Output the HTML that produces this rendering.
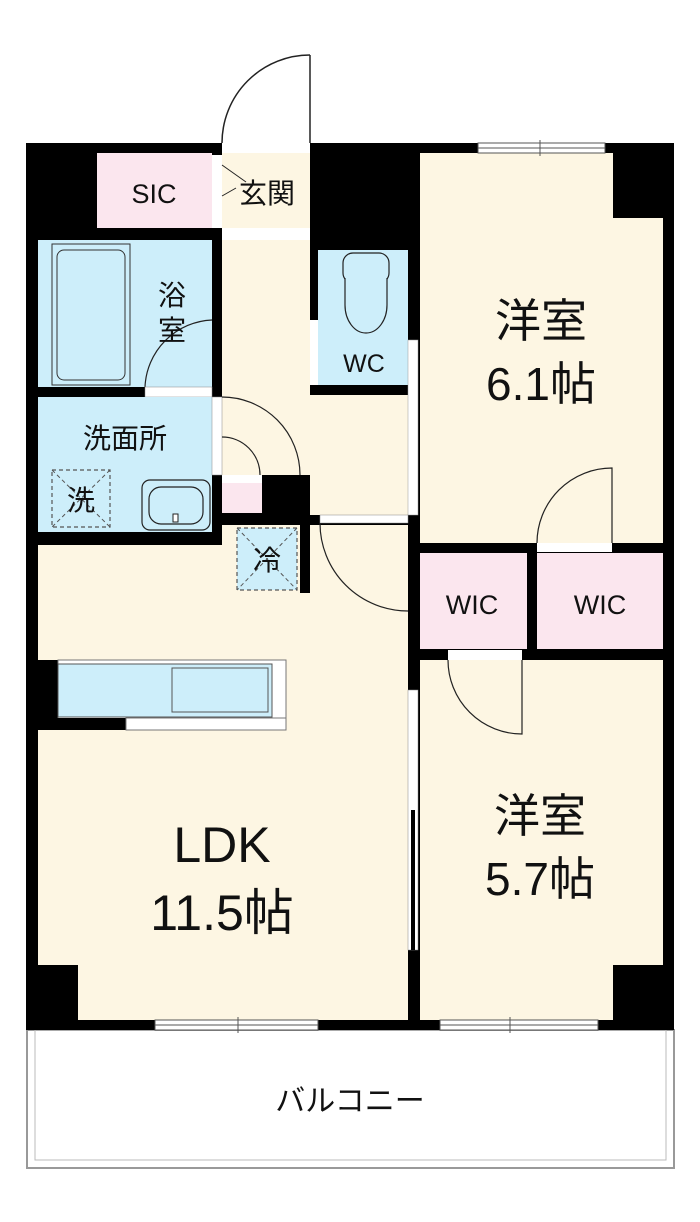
<!DOCTYPE html>
<html><head><meta charset="utf-8"><style>
html,body{margin:0;padding:0;background:#fff;}
svg{display:block;}
text{font-family:"Liberation Sans","Noto Sans CJK JP",sans-serif;fill:#111;}
</style></head><body>
<svg width="700" height="1222" viewBox="0 0 700 1222" xmlns="http://www.w3.org/2000/svg">
<rect x="27" y="1030" width="647" height="138" fill="#fff" stroke="#999" stroke-width="2"/>
<rect x="35" y="1030" width="631" height="130" fill="none" stroke="#bbb" stroke-width="1"/>
<path d="M310 55 A88 88 0 0 0 222 143" fill="none" stroke="#222" stroke-width="1.5"/>
<line x1="310" y1="55" x2="310" y2="143" stroke="#222" stroke-width="1.5"/>
<rect x="26" y="143" width="648" height="887" fill="#000"/>
<rect x="97" y="153" width="115" height="75" fill="#fbe6ee"/>
<rect x="222" y="153" width="88" height="75" fill="#fdf6e3"/>
<rect x="222" y="143" width="88" height="10" fill="#fff"/>
<rect x="222" y="228" width="88" height="12" fill="#fff"/>
<rect x="212" y="155" width="10" height="73" fill="#fff"/>
<line x1="222" y1="165" x2="246" y2="182" stroke="#222" stroke-width="1"/>
<line x1="222" y1="196" x2="236" y2="188" stroke="#222" stroke-width="1"/>
<rect x="222" y="240" width="88" height="235" fill="#fdf6e3"/>
<rect x="310" y="395" width="98" height="120" fill="#fdf6e3"/>
<rect x="38" y="240" width="174" height="147" fill="#cdeefa"/>
<rect x="52" y="244" width="78" height="141" fill="none" stroke="#333" stroke-width="1"/>
<rect x="57" y="250" width="68" height="130" rx="7" fill="#cdeefa" stroke="#333" stroke-width="1"/>
<path d="M145 387 A70 70 0 0 1 212 320" fill="none" stroke="#222" stroke-width="1.2"/>
<rect x="145" y="387" width="67" height="10" fill="#fff" stroke="#888" stroke-width="0.5"/>
<rect x="318" y="250" width="90" height="135" fill="#cdeefa"/>
<rect x="343" y="253" width="46" height="30" rx="10" fill="#cdeefa" stroke="#222" stroke-width="1.2"/>
<path d="M345 278 L345 305 A21 28 0 0 0 387 305 L387 278" fill="#cdeefa" stroke="#222" stroke-width="1.2"/>
<rect x="310" y="320" width="8" height="65" fill="#fff"/>
<rect x="408" y="340" width="10" height="175" fill="#fff" stroke="#999" stroke-width="0.5"/>
<rect x="38" y="397" width="174" height="135" fill="#cdeefa"/>
<rect x="212" y="397" width="10" height="78" fill="#fff" stroke="#888" stroke-width="0.5"/>
<path d="M222 397 A78 78 0 0 1 300 475" fill="none" stroke="#222" stroke-width="1.2"/>
<path d="M222 437 A38 38 0 0 1 260 475" fill="none" stroke="#222" stroke-width="1.2"/>
<rect x="222" y="475" width="40" height="8" fill="#fff"/>
<rect x="222" y="483" width="40" height="30" fill="#fbe6ee"/>
<rect x="52" y="470" width="58" height="57" fill="none" stroke="#555" stroke-width="1.2" stroke-dasharray="4 3"/>
<line x1="52" y1="470" x2="110" y2="527" stroke="#555" stroke-dasharray="4 3"/>
<line x1="110" y1="470" x2="52" y2="527" stroke="#555" stroke-dasharray="4 3"/>
<rect x="142" y="480" width="68" height="50" rx="8" fill="#cdeefa" stroke="#222" stroke-width="1.2"/>
<rect x="149" y="487" width="54" height="37" rx="12" fill="#cdeefa" stroke="#222" stroke-width="1.2"/>
<rect x="173" y="514" width="5" height="8" fill="#fff" stroke="#222" stroke-width="1"/>
<rect x="38" y="545" width="370" height="475" fill="#fdf6e3"/>
<rect x="222" y="525" width="78" height="20" fill="#fdf6e3"/>
<rect x="310" y="525" width="98" height="20" fill="#fdf6e3"/>
<rect x="320" y="515" width="88" height="8" fill="#fff" stroke="#888" stroke-width="0.5"/>
<path d="M320 523 A88 88 0 0 0 408 611" fill="none" stroke="#222" stroke-width="1.2"/>
<rect x="300" y="515" width="10" height="78" fill="#000"/>
<rect x="237" y="528" width="60" height="62" fill="#cdeefa" stroke="#555" stroke-width="1.2" stroke-dasharray="4 3"/>
<line x1="237" y1="528" x2="297" y2="590" stroke="#555" stroke-dasharray="4 3"/>
<line x1="297" y1="528" x2="237" y2="590" stroke="#555" stroke-dasharray="4 3"/>
<rect x="26" y="660" width="32" height="70" fill="#000"/>
<rect x="58" y="660" width="228" height="60" fill="#fff" stroke="#777" stroke-width="1"/>
<rect x="58" y="664" width="214" height="53" fill="#cdeefa" stroke="#555" stroke-width="1"/>
<rect x="172" y="668" width="96" height="44" fill="#cdeefa" stroke="#555" stroke-width="1"/>
<rect x="38" y="718" width="88" height="12" fill="#000"/>
<rect x="126" y="718" width="160" height="12" fill="#fff" stroke="#777" stroke-width="1"/>
<rect x="420" y="153" width="243" height="390" fill="#fdf6e3"/>
<rect x="613" y="153" width="50" height="65" fill="#000"/>
<rect x="478" y="143" width="127" height="10" fill="#fff" stroke="#555" stroke-width="1"/>
<line x1="478" y1="148" x2="605" y2="148" stroke="#555"/>
<line x1="540" y1="140" x2="540" y2="156" stroke="#555"/>
<path d="M537 543 A75 75 0 0 1 612 468 L612 543" fill="none" stroke="#222" stroke-width="1.2"/>
<rect x="537" y="543" width="75" height="9" fill="#fff"/>
<rect x="420" y="553" width="107" height="96" fill="#fbe6ee"/>
<rect x="537" y="553" width="126" height="96" fill="#fbe6ee"/>
<rect x="420" y="660" width="243" height="360" fill="#fdf6e3"/>
<rect x="613" y="965" width="50" height="55" fill="#000"/>
<rect x="38" y="965" width="40" height="55" fill="#000"/>
<rect x="448" y="650" width="74" height="10" fill="#fff"/>
<path d="M448 660 A74 74 0 0 0 522 734 L522 660" fill="none" stroke="#222" stroke-width="1.2"/>
<rect x="408" y="690" width="10" height="260" fill="#fff" stroke="#888" stroke-width="0.5"/>
<rect x="411" y="810" width="4" height="140" fill="#000"/>
<rect x="155" y="1020" width="163" height="10" fill="#fff" stroke="#555" stroke-width="1"/>
<line x1="155" y1="1025" x2="318" y2="1025" stroke="#555"/>
<line x1="238" y1="1017" x2="238" y2="1033" stroke="#555"/>
<rect x="440" y="1020" width="158" height="10" fill="#fff" stroke="#555" stroke-width="1"/>
<line x1="440" y1="1025" x2="598" y2="1025" stroke="#555"/>
<line x1="510" y1="1017" x2="510" y2="1033" stroke="#555"/>
<text x="154" y="203" font-size="27" text-anchor="middle">SIC</text>
<text x="267" y="203" font-size="28" text-anchor="middle">玄関</text>
<text x="172" y="305" font-size="28" text-anchor="middle">浴</text>
<text x="172" y="340" font-size="28" text-anchor="middle">室</text>
<text x="364" y="372" font-size="25" text-anchor="middle">WC</text>
<text x="125" y="448" font-size="28" text-anchor="middle">洗面所</text>
<text x="81" y="510" font-size="28" text-anchor="middle">洗</text>
<text x="267" y="570" font-size="28" text-anchor="middle">冷</text>
<text x="472" y="614" font-size="27" text-anchor="middle">WIC</text>
<text x="600" y="614" font-size="27" text-anchor="middle">WIC</text>
<text x="541" y="337" font-size="46" text-anchor="middle">洋室</text>
<text x="541" y="400" font-size="46" text-anchor="middle">6.1帖</text>
<text x="540" y="832" font-size="46" text-anchor="middle">洋室</text>
<text x="540" y="895" font-size="46" text-anchor="middle">5.7帖</text>
<text x="222" y="862" font-size="50" text-anchor="middle">LDK</text>
<text x="222" y="930" font-size="50" text-anchor="middle">11.5帖</text>
<text x="350" y="1111" font-size="30" text-anchor="middle">バルコニー</text>
</svg>
</body></html>
